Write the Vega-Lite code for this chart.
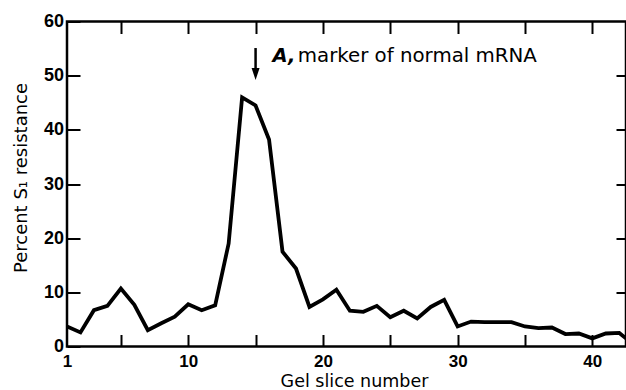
{
  "$schema": "https://vega.github.io/schema/vega-lite/v6.json",
  "width": 559,
  "height": 325,
  "autosize": "none",
  "padding": {"left": 67, "top": 21.5, "right": 0, "bottom": 43.5},
  "background": "white",
  "config": {
    "view": {"stroke": "black", "strokeWidth": 2.5},
    "axis": {"domain": false, "grid": false, "tickColor": "black", "tickWidth": 2, "labelColor": "black", "titleColor": "black", "labelFont": "Liberation Sans", "labelFontWeight": "bold", "labelFontSize": 18, "titleFont": "DejaVu Sans", "titleFontWeight": "normal", "titleFontSize": 18}
  },
  "datasets": {
    "profile": [
      {"slice": 1, "pct": 3.7}, {"slice": 2, "pct": 2.6}, {"slice": 3, "pct": 6.7}, {"slice": 4, "pct": 7.5},
      {"slice": 5, "pct": 10.7}, {"slice": 6, "pct": 7.7}, {"slice": 7, "pct": 3.0}, {"slice": 8, "pct": 4.3},
      {"slice": 9, "pct": 5.5}, {"slice": 10, "pct": 7.8}, {"slice": 11, "pct": 6.7}, {"slice": 12, "pct": 7.6},
      {"slice": 13, "pct": 19.0}, {"slice": 14, "pct": 46.0}, {"slice": 15, "pct": 44.5}, {"slice": 16, "pct": 38.2},
      {"slice": 17, "pct": 17.5}, {"slice": 18, "pct": 14.4}, {"slice": 19, "pct": 7.3}, {"slice": 20, "pct": 8.7},
      {"slice": 21, "pct": 10.5}, {"slice": 22, "pct": 6.6}, {"slice": 23, "pct": 6.4}, {"slice": 24, "pct": 7.5},
      {"slice": 25, "pct": 5.4}, {"slice": 26, "pct": 6.6}, {"slice": 27, "pct": 5.2}, {"slice": 28, "pct": 7.3},
      {"slice": 29, "pct": 8.6}, {"slice": 30, "pct": 3.7}, {"slice": 31, "pct": 4.6}, {"slice": 32, "pct": 4.5},
      {"slice": 33, "pct": 4.5}, {"slice": 34, "pct": 4.5}, {"slice": 35, "pct": 3.7}, {"slice": 36, "pct": 3.4},
      {"slice": 37, "pct": 3.5}, {"slice": 38, "pct": 2.3}, {"slice": 39, "pct": 2.4}, {"slice": 40, "pct": 1.5},
      {"slice": 41, "pct": 2.4}, {"slice": 42, "pct": 2.5}, {"slice": 43, "pct": 0.5}
    ],
    "arrow": [{"slice": 15, "top": 55.1, "bottom": 50.5, "tip": 50.3}],
    "noteA": [{"slice": 16.26, "pct": 52.5, "text": "A,"}],
    "noteB": [{"slice": 18.13, "pct": 52.5, "text": "marker of normal mRNA"}]
  },
  "layer": [
    {
      "data": {"name": "profile"},
      "mark": {"type": "line", "color": "black", "strokeWidth": 3.8, "clip": true, "strokeJoin": "miter"},
      "encoding": {
        "x": {"field": "slice", "type": "quantitative", "scale": {"domain": [1, 42.5], "nice": false, "zero": false},
          "axis": {"orient": "bottom", "values": [1, 5, 10, 15, 20, 25, 30, 35, 40], "tickSize": -12, "labelPadding": 18.5, "labelFontSize": 17,
            "labelExpr": "datum.value == 1 || datum.value % 10 == 0 ? datum.label : ''",
            "tickOpacity": {"condition": {"test": "datum.value == 1", "value": 0}, "value": 1},
            "labelFlush": false, "labelOverlap": false,
            "title": "Gel slice number", "titleFontSize": 17.5, "titleX": 287, "titleY": 40, "titleBaseline": "alphabetic", "titleAnchor": "middle"}},
        "y": {"field": "pct", "type": "quantitative", "scale": {"domain": [0, 60], "nice": false},
          "axis": {"orient": "left", "values": [0, 10, 20, 30, 40, 50, 60], "tickSize": -13, "labelPadding": 16.5,
            "title": "Percent S₁ resistance", "titleX": -41, "titleY": 156, "titleAngle": -90, "titleBaseline": "alphabetic", "titleAlign": "center"}}
      }
    },
    {
      "data": {"name": "profile"},
      "mark": {"type": "line", "opacity": 0},
      "encoding": {
        "x": {"field": "slice", "type": "quantitative",
          "axis": {"orient": "top", "values": [5, 10, 15, 20, 25, 30, 35, 40], "tickSize": -12, "labels": false, "title": null}},
        "y": {"field": "pct", "type": "quantitative",
          "axis": {"orient": "right", "values": [10, 20, 30, 40, 50], "tickSize": -10, "labels": false, "title": null}}
      }
    },
    {
      "data": {"name": "arrow"},
      "mark": {"type": "rule", "color": "black", "strokeWidth": 2.5},
      "encoding": {
        "x": {"field": "slice", "type": "quantitative", "axis": null},
        "y": {"field": "top", "type": "quantitative", "axis": null},
        "y2": {"field": "bottom"}
      }
    },
    {
      "data": {"name": "arrow"},
      "mark": {"type": "point", "shape": "M-1,-1.5L1,-1.5L0,1.5Z", "filled": true, "color": "black", "size": 64, "opacity": 1},
      "encoding": {
        "x": {"field": "slice", "type": "quantitative", "axis": null},
        "y": {"field": "tip", "type": "quantitative", "axis": null}
      }
    },
    {
      "data": {"name": "noteA"},
      "mark": {"type": "text", "font": "DejaVu Sans", "fontSize": 19.5, "fontStyle": "italic", "fontWeight": "bold", "align": "left", "baseline": "alphabetic", "color": "black"},
      "encoding": {
        "x": {"field": "slice", "type": "quantitative", "axis": null},
        "y": {"field": "pct", "type": "quantitative", "axis": null},
        "text": {"field": "text"}
      }
    },
    {
      "data": {"name": "noteB"},
      "mark": {"type": "text", "font": "DejaVu Sans", "fontSize": 19.8, "align": "left", "baseline": "alphabetic", "color": "black"},
      "encoding": {
        "x": {"field": "slice", "type": "quantitative", "axis": null},
        "y": {"field": "pct", "type": "quantitative", "axis": null},
        "text": {"field": "text"}
      }
    }
  ],
  "resolve": {"axis": {"x": "independent", "y": "independent"}}
}
